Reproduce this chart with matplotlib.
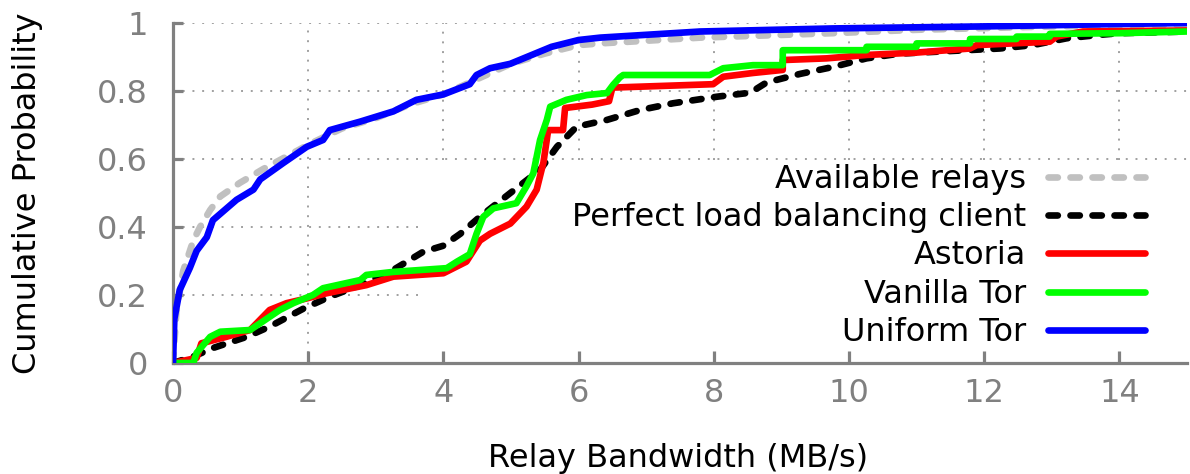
import matplotlib
matplotlib.use("Agg")
import matplotlib.pyplot as plt

# ---- data ----
avail_x = [0, 0.05, 0.15, 0.3, 0.4, 0.55, 0.7, 0.99, 1.33, 2.03, 2.5, 3.0, 3.5, 4.0, 4.5, 5.0, 5.5, 6.0, 6.32, 7.8, 9.76, 11.0, 13.0, 15.0]
avail_y = [0, 0.15, 0.27, 0.36, 0.40, 0.45, 0.49, 0.53, 0.57, 0.645, 0.69, 0.72, 0.76, 0.79, 0.835, 0.88, 0.91, 0.935, 0.94, 0.957, 0.97, 0.98, 0.99, 0.995]

perfect_x = [0, 0.3, 0.59, 1.09, 1.43, 1.93, 2.32, 2.77, 3.26, 3.7, 4.0, 4.25, 4.54, 4.99, 5.43, 5.68, 5.97, 6.42, 6.91, 7.4, 8.04, 8.54, 8.78, 9.27, 9.77, 10.26, 10.75, 11.74, 12.23, 12.72, 13.22, 13.7, 14.0, 15.0]
perfect_y = [0, 0.019, 0.044, 0.077, 0.107, 0.16, 0.195, 0.229, 0.274, 0.327, 0.345, 0.38, 0.43, 0.5, 0.568, 0.636, 0.695, 0.715, 0.744, 0.764, 0.783, 0.795, 0.825, 0.85, 0.871, 0.896, 0.91, 0.92, 0.925, 0.935, 0.955, 0.965, 0.97, 0.975]

astoria_x = [0, 0.35, 0.42, 0.79, 1.14, 1.43, 1.68, 1.98, 2.27, 2.86, 3.26, 4.0, 4.34, 4.54, 4.69, 4.99, 5.23, 5.38, 5.48, 5.55, 5.77, 5.8, 6.2, 6.45, 6.5, 7.99, 8.14, 8.58, 9.02, 9.02, 9.67, 10.26, 11.0, 11.79, 11.89, 12.97, 13.07, 13.46, 15.0]
astoria_y = [0, 0.015, 0.058, 0.077, 0.097, 0.156, 0.176, 0.19, 0.205, 0.229, 0.254, 0.264, 0.298, 0.36, 0.38, 0.41, 0.46, 0.51, 0.59, 0.685, 0.685, 0.75, 0.76, 0.77, 0.81, 0.82, 0.842, 0.853, 0.862, 0.891, 0.896, 0.906, 0.913, 0.925, 0.935, 0.945, 0.96, 0.975, 0.978]

vanilla_x = [0, 0.3, 0.35, 0.55, 0.7, 1.14, 1.29, 1.58, 1.78, 2.07, 2.22, 2.77, 2.86, 3.26, 4.05, 4.2, 4.39, 4.49, 4.59, 4.74, 5.08, 5.23, 5.33, 5.43, 5.53, 5.58, 5.82, 6.12, 6.42, 6.51, 6.61, 6.66, 7.94, 8.14, 8.58, 9.02, 9.02, 10.26, 10.26, 11.0, 11.0, 11.79, 11.79, 12.48, 12.48, 12.97, 12.97, 14.0, 15.0]
vanilla_y = [0, 0, 0.03, 0.077, 0.092, 0.097, 0.117, 0.156, 0.176, 0.2, 0.22, 0.244, 0.259, 0.268, 0.279, 0.298, 0.32, 0.38, 0.43, 0.455, 0.47, 0.52, 0.558, 0.656, 0.715, 0.754, 0.774, 0.788, 0.794, 0.818, 0.84, 0.847, 0.847, 0.867, 0.876, 0.876, 0.92, 0.92, 0.93, 0.93, 0.94, 0.94, 0.953, 0.953, 0.96, 0.96, 0.968, 0.97, 0.975]

uniform_x = [0, 0.02, 0.1, 0.25, 0.35, 0.5, 0.59, 0.94, 1.19, 1.29, 1.63, 1.98, 2.22, 2.32, 2.77, 3.26, 3.6, 4.0, 4.39, 4.49, 4.69, 4.99, 5.6, 6.0, 6.32, 7.8, 9.76, 12.0, 14.0, 15.0]
uniform_y = [0, 0.13, 0.215, 0.28, 0.33, 0.37, 0.42, 0.48, 0.51, 0.54, 0.588, 0.636, 0.656, 0.685, 0.71, 0.74, 0.774, 0.79, 0.82, 0.847, 0.867, 0.88, 0.93, 0.95, 0.957, 0.975, 0.984, 0.99, 0.997, 1.0]

labels = ["Available relays", "Perfect load balancing client", "Astoria", "Vanilla Tor", "Uniform Tor"]
xticks = [0, 2, 4, 6, 8, 10, 12, 14]
yticks = [0, 0.2, 0.4, 0.6, 0.8, 1.0]
yticklabels = ["0", "0.2", "0.4", "0.6", "0.8", "1"]

plt.rcParams['font.family'] = ['DejaVu Sans']
FS = 23
GRAY = '#808080'

fig = plt.figure(figsize=(11.9, 4.74), dpi=100)
ax = fig.add_axes([173/1190, 1 - 363/474, 1014/1190, 340/474])
ax.set_xlim(0, 15)
ax.set_ylim(0, 1)

# grid (gnuplot-style, hidden behind the key area)
grid_kw = dict(color='#a0a0a0', lw=1.4, linestyle=(0, (1, 4)), zorder=0.5)
key_x = 3.73 / 15
key_y = 0.597
for yv in yticks[1:]:
    if yv < key_y:
        ax.axhline(yv, xmin=0, xmax=key_x, **grid_kw)
    else:
        ax.axhline(yv, **grid_kw)
for xv in xticks[1:]:
    if xv / 15 < key_x:
        ax.axvline(xv, **grid_kw)
    else:
        ax.axvline(xv, ymin=key_y, ymax=1, **grid_kw)

LW = 4.8
dash = (1.4, 1.9)
common = dict(lw=LW, solid_capstyle='round', dash_capstyle='round', solid_joinstyle='round')
l1, = ax.plot(avail_x, avail_y, color='#c0c0c0', dashes=dash, zorder=2, **common)
l2, = ax.plot(perfect_x, perfect_y, color='black', dashes=dash, zorder=3, **common)
l3, = ax.plot(astoria_x, astoria_y, color='#ff0000', zorder=4, **common)
l4, = ax.plot(vanilla_x, vanilla_y, color='#00ff00', zorder=5, **common)
l5, = ax.plot(uniform_x, uniform_y, color='#0000ff', zorder=6, **common)

for sp in ['top', 'right']:
    ax.spines[sp].set_visible(False)
for sp in ['left', 'bottom']:
    ax.spines[sp].set_color(GRAY)
    ax.spines[sp].set_linewidth(2.3)

ax.set_xticks(xticks)
ax.set_xticklabels([str(t) for t in xticks])
ax.set_yticks(yticks)
ax.set_yticklabels(yticklabels)
ax.tick_params(axis='y', direction='in', length=7.5, width=2.3, color=GRAY, labelcolor=GRAY, labelsize=FS, pad=18)
ax.tick_params(axis='x', direction='in', length=9, width=2.3, color=GRAY, labelcolor=GRAY, labelsize=FS, pad=11)

fig.text(28/1190, 1 - 193/474, "Cumulative Probability", rotation=90, ha='center', va='center', fontsize=FS, color='black')
fig.text(678/1190, 1 - 458/474, "Relay Bandwidth (MB/s)", ha='center', va='center', fontsize=FS, color='black')

leg = ax.legend([l1, l2, l3, l4, l5], labels, loc='center right',
                bbox_to_anchor=((1145 - 173) / 1014, (363 - 256) / 340),
                frameon=False, fontsize=FS, markerfirst=False,
                handlelength=3.05, handletextpad=0.68, labelspacing=0.23,
                borderpad=0, borderaxespad=0)
for h in leg.get_lines():
    h.set_linewidth(LW)
    h.set_solid_capstyle('round')
    h.set_dash_capstyle('round')

fig.savefig("out.png", dpi=100)
